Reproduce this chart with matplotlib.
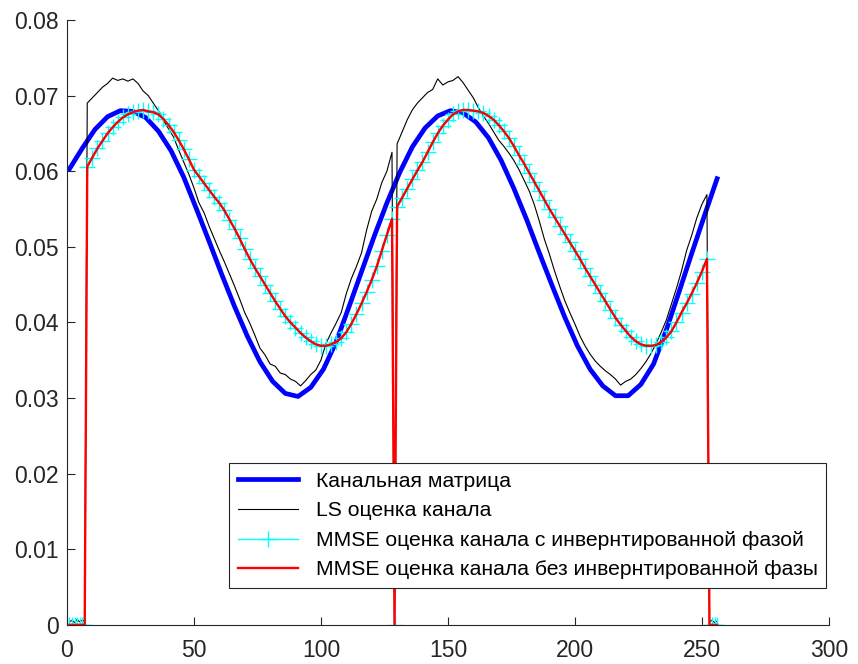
import matplotlib
matplotlib.use("Agg")
import matplotlib.pyplot as plt
from matplotlib.ticker import FixedLocator, FuncFormatter

plt.rcParams['font.family'] = ['Liberation Sans', 'DejaVu Sans']

# channel matrix (true channel), read every 5 subcarriers
chan_x = list(range(1, 257, 5))
chan_h = [0.0603, 0.0630, 0.0655, 0.0672, 0.0680, 0.0679, 0.0671, 0.0653, 0.0627, 0.0592,
          0.0550, 0.0507, 0.0463, 0.0421, 0.0382, 0.0348, 0.0322, 0.0306, 0.0302, 0.0314,
          0.0338, 0.0374, 0.0420, 0.0467, 0.0514, 0.0558, 0.0598, 0.0632, 0.0657, 0.0673,
          0.0680, 0.0677, 0.0665, 0.0644, 0.0614, 0.0577, 0.0536, 0.0492, 0.0449, 0.0407,
          0.0369, 0.0338, 0.0316, 0.0303, 0.0303, 0.0318, 0.0345, 0.0390, 0.0440, 0.0491,
          0.0541, 0.0590]

# subcarrier positions of the estimates: guard band, pilots every 2, DC null, guard band
est_x = (list(range(1, 8)) + list(range(8, 129, 2)) + [129]
         + list(range(130, 253, 2)) + list(range(253, 257)))

# LS estimate
ls_h = [0.0004, 0.0006, 0.0003, 0.0007, 0.0004, 0.0006, 0.0005,
        0.0690, 0.0697, 0.0704, 0.0711, 0.0716, 0.0723, 0.0720, 0.0722, 0.0719, 0.0722,
        0.0716, 0.0706, 0.0700, 0.0690, 0.0680, 0.0667, 0.0656, 0.0645, 0.0628, 0.0612,
        0.0596, 0.0578, 0.0558, 0.0545, 0.0527, 0.0511, 0.0495, 0.0480, 0.0464, 0.0448,
        0.0431, 0.0413, 0.0399, 0.0383, 0.0366, 0.0357, 0.0345, 0.0342, 0.0333, 0.0331,
        0.0325, 0.0322, 0.0316, 0.0323, 0.0331, 0.0337, 0.0350, 0.0372, 0.0386, 0.0399,
        0.0413, 0.0438, 0.0458, 0.0474, 0.0492, 0.0522, 0.0547, 0.0563, 0.0585, 0.0600,
        0.0625,
        0.0,
        0.0636, 0.0652, 0.0668, 0.0681, 0.0690, 0.0697, 0.0704, 0.0708, 0.0722, 0.0714,
        0.0718, 0.0720, 0.0725, 0.0717, 0.0707, 0.0697, 0.0684, 0.0673, 0.0663, 0.0652,
        0.0641, 0.0633, 0.0624, 0.0614, 0.0602, 0.0588, 0.0574, 0.0556, 0.0534, 0.0510,
        0.0490, 0.0468, 0.0448, 0.0429, 0.0413, 0.0398, 0.0382, 0.0369, 0.0358, 0.0349,
        0.0342, 0.0336, 0.0331, 0.0325, 0.0317, 0.0322, 0.0325, 0.0331, 0.0339, 0.0348,
        0.0359, 0.0372, 0.0387, 0.0403, 0.0424, 0.0445, 0.0468, 0.0495, 0.0515, 0.0538,
        0.0556, 0.0569,
        0.0004, 0.0006, 0.0003, 0.0005]

# MMSE estimate (both variants coincide on the picture)
mmse_h = [0.0, 0.0, 0.0, 0.0, 0.0, 0.0, 0.0,
          0.0606, 0.0618, 0.0630, 0.0640, 0.0650, 0.0658, 0.0665, 0.0671, 0.0675, 0.0678,
          0.0680, 0.0681, 0.0679, 0.0678, 0.0675, 0.0669, 0.0661, 0.0652, 0.0641, 0.0629,
          0.0616, 0.0602, 0.0593, 0.0584, 0.0575, 0.0566, 0.0558, 0.0548, 0.0536, 0.0524,
          0.0511, 0.0497, 0.0484, 0.0472, 0.0461, 0.0450, 0.0439, 0.0428, 0.0418, 0.0408,
          0.0400, 0.0393, 0.0386, 0.0380, 0.0375, 0.0371, 0.0369, 0.0369, 0.0371, 0.0374,
          0.0379, 0.0387, 0.0398, 0.0411, 0.0425, 0.0440, 0.0456, 0.0474, 0.0495, 0.0516,
          0.0537,
          0.0,
          0.0553, 0.0565, 0.0577, 0.0589, 0.0601, 0.0612, 0.0625, 0.0638, 0.0650, 0.0660,
          0.0668, 0.0675, 0.0679, 0.0681, 0.0681, 0.0680, 0.0679, 0.0677, 0.0673, 0.0668,
          0.0661, 0.0653, 0.0644, 0.0633, 0.0621, 0.0610, 0.0598, 0.0586, 0.0574, 0.0562,
          0.0550, 0.0539, 0.0528, 0.0517, 0.0506, 0.0495, 0.0484, 0.0472, 0.0461, 0.0450,
          0.0439, 0.0428, 0.0417, 0.0406, 0.0397, 0.0389, 0.0381, 0.0375, 0.0371, 0.0369,
          0.0369, 0.0370, 0.0374, 0.0380, 0.0388, 0.0400, 0.0413, 0.0425, 0.0438, 0.0452,
          0.0467, 0.0484,
          0.0, 0.0, 0.0, 0.0]
mmse_inv_h = list(mmse_h)

labels = ['Канальная матрица', 'LS оценка канала',
          'MMSE оценка канала с инвернтированной фазой',
          'MMSE оценка канала без инвернтированной фазы']

fig = plt.figure(figsize=(8.58, 6.64), dpi=100)
ax = fig.add_axes([0.078, 0.059, 0.888, 0.911])

ax.plot(chan_x, chan_h, color='#0000ff', lw=3.4, label=labels[0])
ax.plot(est_x, ls_h, color='black', lw=0.8, label=labels[1])
ax.plot(est_x, mmse_inv_h, color='#00ffff', lw=1.0, marker='+', ms=11, mew=1.0, label=labels[2])
ax.plot(est_x, mmse_h, color='#ff0000', lw=1.7, label=labels[3])

ax.set_xlim(0, 300)
ax.set_ylim(0, 0.08)
ax.xaxis.set_major_locator(FixedLocator([0, 50, 100, 150, 200, 250, 300]))
ax.yaxis.set_major_locator(FixedLocator([0, 0.01, 0.02, 0.03, 0.04, 0.05, 0.06, 0.07, 0.08]))
ax.yaxis.set_major_formatter(FuncFormatter(lambda v, p: '0' if v == 0 else f'{v:.2f}'))

for side in ['top', 'right']:
    ax.spines[side].set_visible(False)
for side in ['left', 'bottom']:
    ax.spines[side].set_color('#262626')
    ax.spines[side].set_linewidth(0.8)
ax.tick_params(direction='in', length=6, width=0.8, color='#262626',
               labelcolor='#262626', labelsize=16.5)
ax.tick_params(axis='x', pad=10)
ax.tick_params(axis='y', pad=6)

leg = ax.legend(loc='lower left', bbox_to_anchor=(0.213, 0.061), fontsize=15.2,
                handlelength=2.85, handletextpad=0.85, borderpad=0.4, labelspacing=0.5,
                fancybox=False, framealpha=1, edgecolor='#262626', borderaxespad=0)
leg.get_frame().set_linewidth(0.8)

fig.savefig('out.png', dpi=100)
